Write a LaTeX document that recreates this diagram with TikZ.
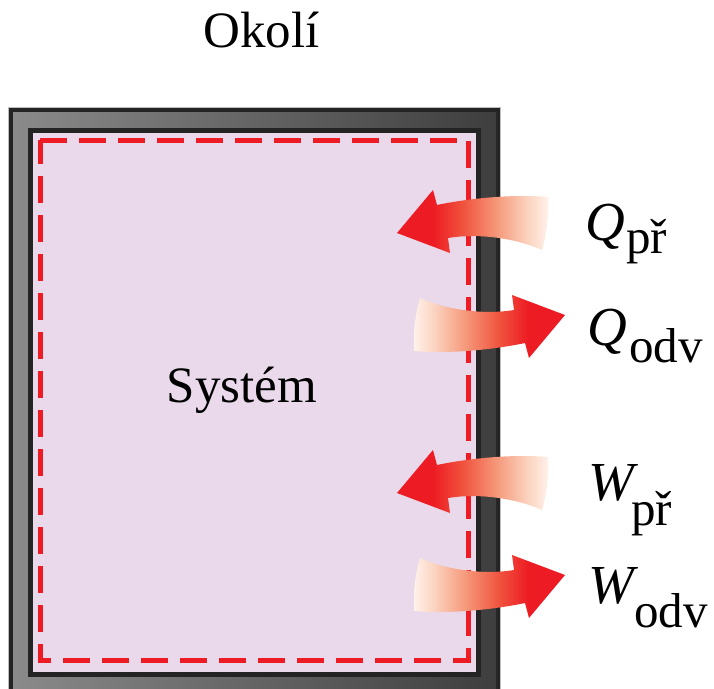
\documentclass[tikz,border=0pt]{standalone}
\usepackage{fontspec}
\setmainfont{Liberation Serif}
\definecolor{arrred}{HTML}{ED1C24}
\definecolor{arrA}{HTML}{F0553F}
\definecolor{arrB}{HTML}{F59A7C}
\definecolor{arrC}{HTML}{FBD3C0}
\definecolor{arrD}{HTML}{FFF3EC}
\definecolor{pinkbg}{HTML}{E9D9EA}
\definecolor{framedark}{HTML}{242424}
\definecolor{framelight}{HTML}{BDBDBD}
\definecolor{frameL}{HTML}{8A8A8A}
\definecolor{frameR}{HTML}{3E3E3E}
\pgfdeclarehorizontalshading{inshade}{100bp}{color(0bp)=(arrred); color(37bp)=(arrred); color(47bp)=(arrA); color(58bp)=(arrB); color(68bp)=(arrC); color(75bp)=(arrD); color(100bp)=(arrD)}
\pgfdeclarehorizontalshading{outshade}{100bp}{color(0bp)=(arrD); color(25bp)=(arrD); color(32bp)=(arrC); color(42bp)=(arrB); color(53bp)=(arrA); color(63bp)=(arrred); color(100bp)=(arrred)}
\tikzset{
  bigtxt/.style={inner sep=0pt, font=\fontsize{51}{60}\selectfont},
  symtxt/.style={inner sep=0pt, anchor=base west, font=\fontsize{55}{64}\selectfont\itshape},
  subtxt/.style={inner sep=0pt, anchor=base west, font=\fontsize{49}{58}\selectfont},
  inarrow/.style={shading=inshade},
  outarrow/.style={shading=outshade}
}
\begin{document}
\begin{tikzpicture}[x=1pt,y=-1pt]
\useasboundingbox (0,0) rectangle (714,688);
% frame
\fill[framedark, draw=framelight, line width=1pt] (8.5,107.5) rectangle (500.5,720);
\fill[left color=frameL, right color=frameR] (13,112) rectangle (496,716);
\fill[framedark] (28,128) rectangle (481,677);
\fill[pinkbg] (33,133) rectangle (476,672);
\draw[arrred, line width=5pt, dash pattern=on 27pt off 12pt, line cap=butt, line join=miter]
  (40,140) -- (468,140) -- (468,660) -- (40,660) -- cycle;
% arrows
\foreach \dy in {0,260}{
  \begin{scope}[shift={(0,\dy)}]
    \shade[inarrow] (397,233) -- (433,190) -- (437,205)
      .. controls (470,198) and (515,194) .. (548,197)
      .. controls (549,215) and (547,233) .. (542,250)
      .. controls (515,238) and (478,233) .. (448,238)
      -- (450,253) -- cycle;
    \shade[outarrow] (565,315) -- (529,358) -- (525,343)
      .. controls (492,350) and (447,354) .. (414,351)
      .. controls (413,333) and (415,315) .. (420,298)
      .. controls (447,310) and (484,315) .. (514,310)
      -- (512,295) -- cycle;
  \end{scope}
}
% texts
\node[bigtxt, anchor=base] (okoli) at (261.5,47) {Okolí};
\node[bigtxt, anchor=base] (system) at (242,402) {Systém};
\node[symtxt] (qpr) at (585,240) {Q};
\node[subtxt] (qprs) at (626,253) {př};
\node[symtxt] (qodv) at (587,345) {Q};
\node[subtxt] (qodvs) at (629,362) {odv};
\node[symtxt] (wpr) at (588,500) {W};
\node[subtxt] (wprs) at (631,525) {př};
\node[symtxt] (wodv) at (588,603) {W};
\node[subtxt] (wodvs) at (634,627) {odv};
\end{tikzpicture}
\end{document}
